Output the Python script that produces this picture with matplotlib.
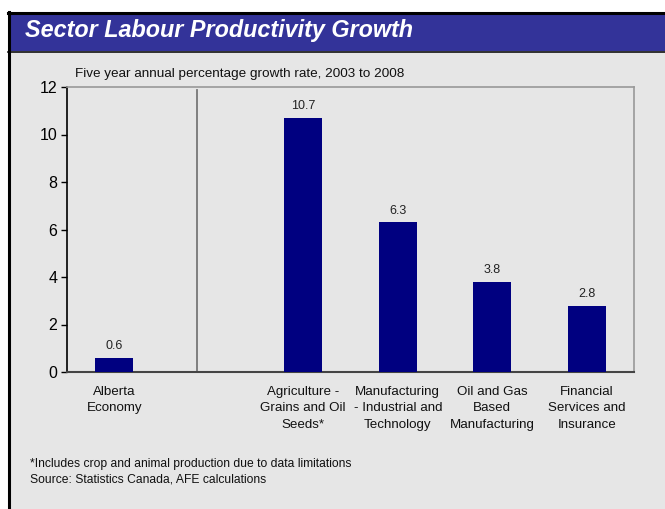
import numpy as np
import matplotlib.pyplot as plt
from matplotlib.patches import Rectangle

categories = ['Alberta\nEconomy', '',
              'Agriculture -\nGrains and Oil\nSeeds*',
              'Manufacturing\n- Industrial and\nTechnology',
              'Oil and Gas\nBased\nManufacturing',
              'Financial\nServices and\nInsurance']
values = [0.6, np.nan, 10.7, 6.3, 3.8, 2.8]
yticks = [0, 2, 4, 6, 8, 10, 12]

plt.rcParams['font.family'] = ['Liberation Sans', 'DejaVu Sans']

W, H = 665, 509
fig = plt.figure(figsize=(W / 100, H / 100), dpi=100)
fig.patch.set_facecolor('white')

def fx(px):
    return px / W

def fy(py):
    return 1 - py / H

panel = '#e6e6e6'
# grey panel, title bar and black frame (behind the axes)
fig.patches.append(Rectangle((fx(8), 0), 1, fy(51), transform=fig.transFigure,
                             facecolor=panel, edgecolor='none', zorder=-2))
fig.patches.append(Rectangle((fx(8), fy(51)), 1, fy(13) - fy(51), transform=fig.transFigure,
                             facecolor='#333399', edgecolor='none', zorder=-2))
fig.lines.append(plt.Line2D([fx(8), 1], [fy(12.5), fy(12.5)], transform=fig.transFigure,
                            color='black', lw=2.2, zorder=-1))
fig.lines.append(plt.Line2D([fx(8), 1], [fy(51.5), fy(51.5)], transform=fig.transFigure,
                            color='#111111', lw=1.2, zorder=-1))
fig.lines.append(plt.Line2D([fx(8.5), fx(8.5)], [0, fy(12)], transform=fig.transFigure,
                            color='black', lw=2.2, zorder=-1))

fig.text(fx(25), fy(31), 'Sector Labour Productivity Growth', color='white',
         fontsize=16.8, fontweight='bold', fontstyle='italic', va='center', ha='left')
fig.text(fx(75), fy(74), 'Five year annual percentage growth rate, 2003 to 2008',
         fontsize=9.7, va='center', ha='left', color='#111111')
fig.text(fx(30), fy(464), '*Includes crop and animal production due to data limitations',
         fontsize=8.7, va='center', ha='left', color='#111111')
fig.text(fx(30), fy(479), 'Source: Statistics Canada, AFE calculations',
         fontsize=8.7, va='center', ha='left', color='#111111')

ax = fig.add_axes([fx(67), fy(372), fx(634) - fx(67), fy(87) - fy(372)])
ax.set_facecolor(panel)
x = np.arange(len(categories))
bars = ax.bar(x, values, width=0.4, color='#000080', zorder=3)
for xi, v in zip(x, values):
    if not np.isnan(v):
        ax.annotate(f'{v:.1f}', (xi, v), xytext=(0, 4), textcoords='offset points',
                    ha='center', va='bottom', fontsize=9, color='#222222')

ax.axvline(0.876, ymin=0, ymax=0.99, color='#777777', lw=1.3, zorder=2)

ax.set_xlim(-0.5, 5.5)
ax.set_ylim(0, 12)
ax.set_yticks(yticks)
ax.set_xticks(x)
ax.set_xticklabels(categories, fontsize=9.6, linespacing=1.5, color='#111111')
ax.tick_params(axis='x', length=0, pad=10)
ax.tick_params(axis='y', length=4, width=1, labelsize=11.5, pad=3)

for s in ['top', 'right']:
    ax.spines[s].set_color('#999999')
    ax.spines[s].set_linewidth(1.2)
ax.spines['left'].set_color('black')
ax.spines['bottom'].set_color('#444444')
ax.spines['left'].set_linewidth(1.2)
ax.spines['bottom'].set_linewidth(1.5)

fig.savefig('out.png', dpi=100, facecolor=fig.get_facecolor())
